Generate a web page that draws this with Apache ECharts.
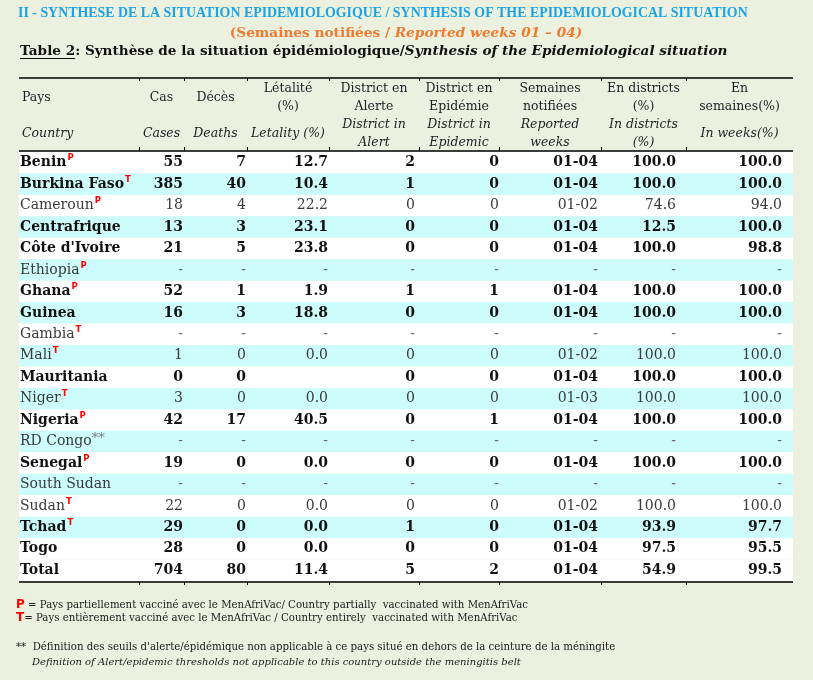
<!DOCTYPE html>
<html>
<head>
<meta charset="UTF-8">
<title>Table 2 - Synthèse de la situation épidémiologique</title>
<script src="https://cdn.jsdelivr.net/npm/echarts@6/dist/echarts.min.js"></script>
<style>
  html, body { margin: 0; padding: 0; background: #ebf1de; }
  #chart { width: 813px; height: 680px; }
</style>
</head>
<body>
<div id="chart"></div>
<script>
// ---- données du tableau ----
var countries = ['Benin', 'Burkina Faso', 'Cameroun', 'Centrafrique', "Côte d'Ivoire", 'Ethiopia', 'Ghana', 'Guinea',
  'Gambia', 'Mali', 'Mauritania', 'Niger', 'Nigeria', 'RD Congo', 'Senegal', 'South Sudan', 'Sudan', 'Tchad', 'Togo', 'Total'];
var vaccMark = ['P', 'T', 'P', '', '', 'P', 'P', '', 'T', 'T', '', 'T', 'P', '**', 'P', '', 'T', 'T', '', ''];
var boldRow = [1, 1, 0, 1, 1, 0, 1, 1, 0, 0, 1, 0, 1, 0, 1, 0, 0, 1, 1, 1];
var cases = [55, 385, 18, 13, 21, null, 52, 16, null, 1, 0, 3, 42, null, 19, null, 22, 29, 28, 704];
var deaths = [7, 40, 4, 3, 5, null, 1, 3, null, 0, 0, 0, 17, null, 0, null, 0, 0, 0, 80];
var letality = [12.7, 10.4, 22.2, 23.1, 23.8, null, 1.9, 18.8, null, 0.0, '', 0.0, 40.5, null, 0.0, null, 0.0, 0.0, 0.0, 11.4];
var alertDistricts = [2, 1, 0, 0, 0, null, 1, 0, null, 0, 0, 0, 0, null, 0, null, 0, 1, 0, 5];
var epidemicDistricts = [0, 0, 0, 0, 0, null, 1, 0, null, 0, 0, 0, 1, null, 0, null, 0, 0, 0, 2];
var reportedWeeks = ['01-04', '01-04', '01-02', '01-04', '01-04', null, '01-04', '01-04', null, '01-02',
  '01-04', '01-03', '01-04', null, '01-04', null, '01-02', '01-04', '01-04', '01-04'];
var inDistricts = [100.0, 100.0, 74.6, 12.5, 100.0, null, 100.0, 100.0, null, 100.0, 100.0, 100.0, 100.0, null, 100.0, null, 100.0, 93.9, 97.5, 54.9];
var inWeeks = [100.0, 100.0, 94.0, 100.0, 98.8, null, 100.0, 100.0, null, 100.0, 100.0, 100.0, 100.0, null, 100.0, null, 100.0, 97.7, 95.5, 99.5];

var headersFr = ['Pays', 'Cas', 'Décès', 'Létalité\n(%)', 'District en\nAlerte', 'District en\nEpidémie', 'Semaines\nnotifiées', 'En districts\n(%)', 'En\nsemaines(%)'];
var headersEn = ['Country', 'Cases', 'Deaths', 'Letality (%)', 'District in\nAlert', 'District in\nEpidemic', 'Reported\nweeks', 'In districts\n(%)', 'In weeks(%)'];

// ---- mise en page ----
var tableLeft = 19, tableWidth = 774;
var colEdges = [0, 120, 165, 228, 310, 400, 480, 582, 667, 774];
var valueRight = [0, 164, 227, 309, 396, 480, 579, 657, 763];
var serif = 'DejaVu Serif';
var titleFont = 'Liberation Serif';

var columns = [
  { vals: cases, dec: 0 },
  { vals: deaths, dec: 0 },
  { vals: letality, dec: 1 },
  { vals: alertDistricts, dec: 0 },
  { vals: epidemicDistricts, dec: 0 },
  { vals: reportedWeeks, dec: 0 },
  { vals: inDistricts, dec: 1 },
  { vals: inWeeks, dec: 1 }
];

function fmt(v, dec) {
  if (v === null) return '-';
  if (v === '') return '';
  if (typeof v === 'number') return v.toFixed(dec);
  return String(v);
}

var myChart = echarts.init(document.getElementById('chart'));

// en-têtes, lignes, titres et notes
var graphics = [];
var topLine = 78, headLine = 151, bottomLine = 582;

graphics.push({
  type: 'text', x: 18, y: 13,
  style: { text: 'II - SYNTHESE DE LA SITUATION EPIDEMIOLOGIQUE / SYNTHESIS OF THE EPIDEMIOLOGICAL SITUATION',
    fill: '#1ba3e6', fontFamily: titleFont, fontWeight: 'bold', fontSize: 13.9, align: 'left', verticalAlign: 'middle' }
});
graphics.push({
  type: 'text', x: 406, y: 33,
  style: { text: '{a|(Semaines notifiées / }{b|Reported weeks 01 – 04)}', align: 'center', verticalAlign: 'middle',
    rich: {
      a: { fill: '#ee7b30', fontFamily: serif, fontWeight: 'bold', fontSize: 13.7 },
      b: { fill: '#ee7b30', fontFamily: serif, fontWeight: 'bold', fontStyle: 'italic', fontSize: 13.7 }
    } }
});
graphics.push({
  type: 'text', x: 20, y: 51,
  style: { text: '{a|Table 2}{a|: Synthèse de la situation épidémiologique/}{b|Synthesis of the Epidemiological situation}',
    align: 'left', verticalAlign: 'middle',
    rich: {
      a: { fill: '#111', fontFamily: serif, fontWeight: 'bold', fontSize: 13.6 },
      b: { fill: '#111', fontFamily: serif, fontWeight: 'bold', fontStyle: 'italic', fontSize: 13.6 }
    } }
});
var ctx = document.createElement('canvas').getContext('2d');
ctx.font = 'bold 13.6px "' + serif + '"';
var ulW = ctx.measureText('Table 2').width;
graphics.push({ type: 'line', shape: { x1: 20, y1: 58.5, x2: 20 + ulW, y2: 58.5 }, style: { stroke: '#111', lineWidth: 1 } });

// lignes du tableau
graphics.push({ type: 'line', shape: { x1: tableLeft, y1: topLine, x2: tableLeft + tableWidth, y2: topLine }, style: { stroke: '#000', lineWidth: 1.6 } });
graphics.push({ type: 'line', shape: { x1: tableLeft, y1: headLine, x2: tableLeft + tableWidth, y2: headLine }, style: { stroke: '#000', lineWidth: 1.3 } });
graphics.push({ type: 'line', shape: { x1: tableLeft, y1: bottomLine, x2: tableLeft + tableWidth, y2: bottomLine }, style: { stroke: '#000', lineWidth: 1.3 } });
for (var e = 1; e < colEdges.length - 1; e++) {
  var ex = tableLeft + colEdges[e] + 0.5;
  graphics.push({ type: 'line', shape: { x1: ex, y1: topLine, x2: ex, y2: topLine + 3 }, style: { stroke: '#000', lineWidth: 1 } });
  graphics.push({ type: 'line', shape: { x1: ex, y1: headLine - 4, x2: ex, y2: headLine }, style: { stroke: '#000', lineWidth: 1 } });
  graphics.push({ type: 'line', shape: { x1: ex, y1: bottomLine, x2: ex, y2: bottomLine + 3 }, style: { stroke: '#000', lineWidth: 1 } });
}

// en-têtes de colonnes
for (var c = 0; c < headersFr.length; c++) {
  var hx = c === 0 ? tableLeft + 3 : tableLeft + (colEdges[c] + colEdges[c + 1]) / 2;
  var al = c === 0 ? 'left' : 'center';
  graphics.push({ type: 'text', x: hx, y: 97.5,
    style: { text: headersFr[c], fill: '#1e1e24', fontFamily: serif, fontSize: 12.5, lineHeight: 18, align: al, verticalAlign: 'middle' } });
  graphics.push({ type: 'text', x: hx, y: 134,
    style: { text: headersEn[c], fill: '#1e1e24', fontFamily: serif, fontStyle: 'italic', fontSize: 12.5, lineHeight: 18, align: al, verticalAlign: 'middle' } });
}

// notes
var noteStyle = { fill: '#1a1a1a', fontFamily: serif, fontSize: 10.2 };
graphics.push({ type: 'text', x: 16, y: 605,
  style: { text: '{r|P}{t| = Pays partiellement vacciné avec le MenAfriVac/ Country partially  vaccinated with MenAfriVac}', verticalAlign: 'middle',
    rich: { r: { fill: '#ff0000', fontFamily: 'DejaVu Sans', fontWeight: 'bold', fontSize: 12 }, t: noteStyle } } });
graphics.push({ type: 'text', x: 16, y: 618,
  style: { text: '{r|T}{t|= Pays entièrement vacciné avec le MenAfriVac / Country entirely  vaccinated with MenAfriVac}', verticalAlign: 'middle',
    rich: { r: { fill: '#ff0000', fontFamily: 'DejaVu Sans', fontWeight: 'bold', fontSize: 12 }, t: noteStyle } } });
graphics.push({ type: 'text', x: 16, y: 647,
  style: { text: "**  Définition des seuils d'alerte/épidémique non applicable à ce pays situé en dehors de la ceinture de la méningite",
    fill: '#1a1a1a', fontFamily: serif, fontSize: 10.2, verticalAlign: 'middle' } });
graphics.push({ type: 'text', x: 32, y: 662,
  style: { text: 'Definition of Alert/epidemic thresholds not applicable to this country outside the meningitis belt',
    fill: '#1a1a1a', fontFamily: serif, fontStyle: 'italic', fontSize: 10, verticalAlign: 'middle' } });

function renderRow(params, api) {
  var i = api.value(1);
  var mid = api.coord([0, i]);
  var h = api.size([0, 1])[1];
  var w = api.size([tableWidth, 0])[0];
  var bold = boldRow[i] === 1;
  var band = (i % 2 === 1 && i < countries.length - 1) ? '#ccfcfc' : '#ffffff';
  var ink = bold ? '#111111' : '#3a3a3a';
  var kids = [{
    type: 'rect',
    shape: { x: mid[0], y: mid[1] - h / 2, width: w, height: h },
    style: { fill: band }
  }];
  var mark = vaccMark[i];
  var label = '{n|' + countries[i] + '}';
  if (mark === '**') label += '{a|**}';
  else if (mark) label += '{s|' + mark + '}';
  kids.push({
    type: 'text',
    x: api.coord([1, i])[0], y: mid[1],
    style: {
      text: label, align: 'left', verticalAlign: 'middle',
      rich: {
        n: { fill: ink, fontFamily: serif, fontSize: 14, fontWeight: bold ? 'bold' : 'normal', lineHeight: 18 },
        s: { fill: '#ff0000', fontFamily: 'DejaVu Sans', fontSize: 8.5, fontWeight: 'bold', lineHeight: 11, verticalAlign: 'top', padding: [0, 0, 0, 1] },
        a: { fill: '#777777', fontFamily: serif, fontSize: 13, lineHeight: 18, verticalAlign: 'top' }
      }
    }
  });
  for (var k = 0; k < columns.length; k++) {
    var v = columns[k].vals[i];
    kids.push({
      type: 'text',
      x: api.coord([valueRight[k + 1], i])[0], y: mid[1],
      style: {
        text: fmt(v, columns[k].dec),
        fill: v === null ? '#666666' : ink,
        fontFamily: serif, fontSize: 14,
        fontWeight: bold && v !== null ? 'bold' : 'normal',
        align: 'right', verticalAlign: 'middle'
      }
    });
  }
  return { type: 'group', children: kids };
}

var option = {
  backgroundColor: '#ebf1de',
  animation: false,
  grid: { left: tableLeft, width: tableWidth, top: 152, height: 429 },
  xAxis: { type: 'value', min: 0, max: tableWidth, show: false },
  yAxis: { type: 'category', data: countries, inverse: true, show: false },
  graphic: { elements: graphics },
  series: [{
    type: 'custom',
    renderItem: renderRow,
    data: countries.map(function (n, i) { return [0, i]; }),
    encode: { x: 0, y: 1 }
  }]
};
myChart.setOption(option);
</script>
</body>
</html>
